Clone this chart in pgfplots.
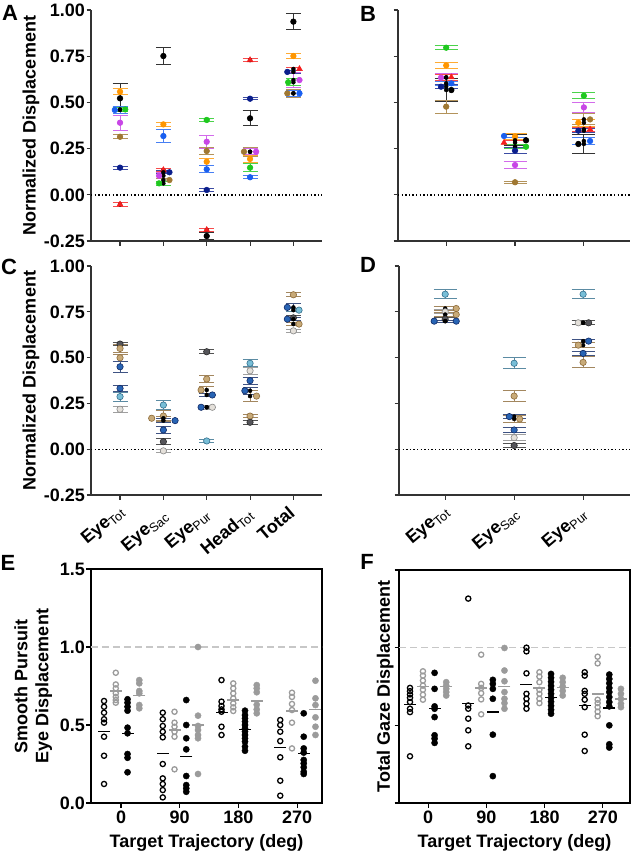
\documentclass[border=0pt]{standalone}
\usepackage{fontspec}
\setmainfont{Liberation Sans}
\usepackage{pgfplots}
\pgfplotsset{compat=1.18}

\newcommand{\fL}{\fontsize{18}{21}\selectfont\bfseries}
\newcommand{\fP}{\fontsize{22}{22}\selectfont\bfseries}
\newcommand{\sub}[1]{\textsubscript{\mdseries #1}}

% panels A/B
\definecolor{cBk}{RGB}{0,0,0}
\definecolor{cOr}{RGB}{255,150,0}
\definecolor{cBl}{RGB}{25,95,240}
\definecolor{cNv}{RGB}{10,30,140}
\definecolor{cGr}{RGB}{30,200,30}
\definecolor{cPu}{RGB}{200,70,230}
\definecolor{cBr}{RGB}{160,120,50}
\definecolor{cRd}{RGB}{245,30,30}
% panels C/D fills and outlines
\definecolor{fLB}{RGB}{120,190,215}\definecolor{oLB}{RGB}{50,110,140}
\definecolor{fDG}{RGB}{85,85,90}\definecolor{oDG}{RGB}{40,40,40}
\definecolor{fTn}{RGB}{200,170,120}\definecolor{oTn}{RGB}{140,105,55}
\definecolor{fBl}{RGB}{40,100,180}\definecolor{oBl}{RGB}{15,40,100}
\definecolor{fLG}{RGB}{228,224,218}\definecolor{oLG}{RGB}{135,135,135}
\definecolor{gGr}{RGB}{155,155,155}

% #1 fill, #2 draw, #3 mark style, #4 x of error bar, #5 x of mark, #6 y, #7 error, #8 cap half width
\newcommand{\pp}[8]{%
\addplot[only marks, mark=none, forget plot, error bars/.cd, y dir=both, y explicit,
  error bar style={color=#2!80!white, line width=1pt},
  error mark options={rotate=90, color=#2!80!white, mark size=#8, line width=1pt}]
  coordinates {(#4,#6) +- (0,#7)};
\addplot[only marks, forget plot, #3, mark options={fill=#1, draw=#2, line width=0.6pt, solid}]
  coordinates {(#5,#6)};
}

\pgfplotsset{
  mA/.style={mark=*, mark size=2.8pt},
  mT/.style={mark=triangle*, mark size=3.3pt},
  mC/.style={mark=*, mark size=3.2pt},
  panelAD/.style={
    scale only axis, clip=false,
    axis x line*=bottom, axis y line*=left,
    axis line style={-, line width=1.1pt, black!80},
    tick style={line width=1.1pt, black!80},
    tick align=outside, major tick length=4.5pt,
    ymin=-0.25, ymax=1, ytick={-0.25,0,0.25,0.5,0.75,1},
    xticklabels={}, yticklabels={},
    yticklabel style={font=\fL, inner xsep=1.5pt},
    ylabel style={font=\fL, at={(axis description cs:-0.26,0.5)}, anchor=center},
  },
  panelEF/.style={
    scale only axis, clip=false,
    axis line style={line width=1.2pt, black},
    tick style={line width=1.2pt, black},
    tick align=outside, major tick length=4.5pt, tick pos=left,
    ymin=0, ymax=1.5, ytick={0,0.5,1,1.5},
    xtick={0,90,180,270}, xticklabels={0,90,180,270},
    yticklabels={},
    yticklabel style={font=\fL, inner xsep=1.5pt},
    xticklabel style={font=\fL},
    ylabel style={font=\fL, align=center, anchor=center},
    xlabel style={font=\fL, at={(axis description cs:0.5,-0.171)}, anchor=center},
    xlabel={Target Trajectory (deg)},
  },
  oB/.style={only marks, mark=o, mark size=2.6pt, mark options={line width=1.3pt}, black},
  oG/.style={only marks, mark=o, mark size=2.6pt, mark options={line width=1.3pt}, gGr},
  fB/.style={only marks, mark=*, mark size=3.1pt, black},
  fG/.style={only marks, mark=*, mark size=3.1pt, gGr},
  mnB/.style={only marks, mark=-, mark size=6pt, mark options={line width=1.4pt}, black},
  mnG/.style={only marks, mark=-, mark size=6pt, mark options={line width=1.4pt}, gGr},
}

\begin{document}
\begin{tikzpicture}
\useasboundingbox (0,0) rectangle (633pt,-860pt);

% ---------------- A ----------------
\begin{axis}[panelAD, at={(91pt,-241pt)}, anchor=south west, width=231pt, height=231pt,
  xmin=-0.67, xmax=4.66, xtick={0,1,2,3,4},
  yticklabels={-0.25,0.00,0.25,0.50,0.75,1.00}, ylabel={Normalized Displacement}]
\addplot[forget plot, black, line width=1.4pt, dash pattern=on 1.4pt off 2.2pt] coordinates {(-0.67,0) (4.66,0)};
% Eye_Tot
\pp{cBk}{cBk}{mA}{0}{0}{0.522}{0.08}{7.5pt}
\pp{cOr}{cOr}{mA}{0}{0}{0.558}{0.015}{7.5pt}
\pp{cBl}{cBl}{mA}{0}{-0.12}{0.459}{0.02}{7.5pt}
\pp{cGr}{cGr}{mA}{0}{0.12}{0.462}{0.012}{7.5pt}
\pp{cPu}{cPu}{mA}{0}{0}{0.39}{0.04}{7.5pt}
\pp{cBr}{cBr}{mA}{0}{0}{0.314}{0.012}{7.5pt}
\pp{cNv}{cNv}{mA}{0}{0}{0.147}{0.008}{7.5pt}
\pp{cRd}{cRd}{mT}{0}{0}{-0.052}{0.01}{7.5pt}
% Eye_Sac
\pp{cBk}{cBk}{mA}{1}{1}{0.751}{0.045}{7.5pt}
\pp{cOr}{cOr}{mA}{1}{1}{0.381}{0.012}{7.5pt}
\pp{cBl}{cBl}{mA}{1}{1}{0.318}{0.036}{7.5pt}
\pp{cRd}{cRd}{mT}{1}{1}{0.134}{0.01}{7.5pt}
\pp{cPu}{cPu}{mA}{1}{0.9}{0.103}{0.015}{7.5pt}
\pp{cNv}{cNv}{mA}{1}{1.14}{0.122}{0.008}{7.5pt}
\pp{cBr}{cBr}{mA}{1}{1.14}{0.080}{0.008}{7.5pt}
\pp{cGr}{cGr}{mA}{1}{0.9}{0.062}{0.01}{7.5pt}
% Eye_Pur
\pp{cGr}{cGr}{mA}{2}{2}{0.405}{0.01}{7.5pt}
\pp{cPu}{cPu}{mA}{2}{2}{0.287}{0.035}{7.5pt}
\pp{cBr}{cBr}{mA}{2}{2}{0.237}{0.02}{7.5pt}
\pp{cOr}{cOr}{mA}{2}{2}{0.179}{0.02}{7.5pt}
\pp{cBl}{cBl}{mA}{2}{2}{0.138}{0.02}{7.5pt}
\pp{cNv}{cNv}{mA}{2}{2}{0.026}{0.008}{7.5pt}
\pp{cRd}{cRd}{mT}{2}{2}{-0.19}{0.008}{7.5pt}
\pp{cBk}{cBk}{mA}{2}{2}{-0.223}{0.02}{7.5pt}
% Head_Tot
\pp{cRd}{cRd}{mT}{3}{3}{0.729}{0.01}{7.5pt}
\pp{cNv}{cNv}{mA}{3}{3}{0.52}{0.006}{7.5pt}
\pp{cBk}{cBk}{mA}{3}{3}{0.414}{0.04}{7.5pt}
\pp{cBr}{cBr}{mA}{3}{2.86}{0.233}{0.025}{7.5pt}
\pp{cPu}{cPu}{mA}{3}{3.14}{0.233}{0.015}{7.5pt}
\pp{cOr}{cOr}{mA}{3}{3}{0.194}{0.02}{7.5pt}
\pp{cGr}{cGr}{mA}{3}{3}{0.147}{0.02}{7.5pt}
\pp{cBl}{cBl}{mA}{3}{3}{0.095}{0.008}{7.5pt}
% Total
\pp{cBk}{cBk}{mA}{4}{4}{0.937}{0.045}{7.5pt}
\pp{cOr}{cOr}{mA}{4}{4}{0.751}{0.015}{7.5pt}
\pp{cRd}{cRd}{mT}{4}{4.14}{0.681}{0.01}{7.5pt}
\pp{cNv}{cNv}{mA}{4}{3.86}{0.665}{0.01}{7.5pt}
\pp{cPu}{cPu}{mA}{4}{4.14}{0.621}{0.04}{7.5pt}
\pp{cGr}{cGr}{mA}{4}{3.88}{0.609}{0.02}{7.5pt}
\pp{cBr}{cBr}{mA}{4}{3.86}{0.549}{0.02}{7.5pt}
\pp{cBl}{cBl}{mA}{4}{4.14}{0.549}{0.015}{7.5pt}
\end{axis}

% ---------------- B ----------------
\begin{axis}[panelAD, at={(398pt,-241pt)}, anchor=south west, width=232pt, height=231pt,
  xmin=-0.7, xmax=2.67, xtick={0,1,2}]
\addplot[forget plot, black, line width=1.4pt, dash pattern=on 1.4pt off 2.2pt] coordinates {(-0.7,0) (2.67,0)};
% Eye_Tot
\pp{cGr}{cGr}{mA}{0}{0}{0.796}{0.01}{11.5pt}
\pp{cOr}{cOr}{mA}{0}{0}{0.70}{0.015}{11.5pt}
\pp{cPu}{cPu}{mA}{0}{-0.075}{0.634}{0.02}{11.5pt}
\pp{cRd}{cRd}{mT}{0}{0.075}{0.636}{0.015}{11.5pt}
\pp{cBl}{cBl}{mA}{0}{0.075}{0.603}{0.01}{11.5pt}
\pp{cNv}{cNv}{mA}{0}{-0.075}{0.585}{0.012}{11.5pt}
\pp{cBk}{cBk}{mA}{0}{0.075}{0.567}{0.06}{11.5pt}
\pp{cBr}{cBr}{mA}{0}{0}{0.477}{0.035}{11.5pt}
% Eye_Sac
\pp{cBl}{cBl}{mA}{1}{0.84}{0.318}{0.01}{11.5pt}
\pp{cOr}{cOr}{mA}{1}{1}{0.315}{0.015}{11.5pt}
\pp{cBk}{cBk}{mA}{1}{1.16}{0.295}{0.03}{11.5pt}
\pp{cRd}{cRd}{mT}{1}{0.84}{0.282}{0.01}{11.5pt}
\pp{cGr}{cGr}{mA}{1}{1.16}{0.26}{0.01}{11.5pt}
\pp{cNv}{cNv}{mA}{1}{1}{0.239}{0.015}{11.5pt}
\pp{cPu}{cPu}{mA}{1}{1}{0.161}{0.02}{11.5pt}
\pp{cBr}{cBr}{mA}{1}{1}{0.068}{0.006}{11.5pt}
% Eye_Pur
\pp{cGr}{cGr}{mA}{2}{2}{0.536}{0.015}{11.5pt}
\pp{cPu}{cPu}{mA}{2}{2}{0.473}{0.025}{11.5pt}
\pp{cBr}{cBr}{mA}{2}{2.09}{0.408}{0.03}{11.5pt}
\pp{cOr}{cOr}{mA}{2}{1.92}{0.39}{0.02}{11.5pt}
\pp{cRd}{cRd}{mT}{2}{2.09}{0.354}{0.01}{11.5pt}
\pp{cNv}{cNv}{mA}{2}{1.92}{0.347}{0.01}{11.5pt}
\pp{cBl}{cBl}{mA}{2}{2.09}{0.291}{0.02}{11.5pt}
\pp{cBk}{cBk}{mA}{2}{1.92}{0.275}{0.05}{11.5pt}
\end{axis}

% ---------------- C ----------------
\begin{axis}[panelAD, at={(91pt,-495pt)}, anchor=south west, width=231pt, height=229pt,
  xmin=-0.67, xmax=4.66, xtick={0,1,2,3,4},
  yticklabels={-0.25,0.00,0.25,0.50,0.75,1.00}, ylabel={Normalized Displacement}]
\addplot[forget plot, black, line width=1.4pt, dash pattern=on 1.4pt off 2.2pt] coordinates {(-0.67,0) (4.66,0)};
% Eye_Tot
\pp{fDG}{oDG}{mC}{0}{0}{0.574}{0.01}{7.5pt}
\pp{fTn}{oTn}{mC}{0}{0}{0.55}{0.02}{7.5pt}
\pp{fTn}{oTn}{mC}{0}{0}{0.499}{0.02}{7.5pt}
\pp{fBl}{oBl}{mC}{0}{0}{0.45}{0.03}{7.5pt}
\pp{fBl}{oBl}{mC}{0}{0}{0.332}{0.015}{7.5pt}
\pp{fLB}{oLB}{mC}{0}{0}{0.287}{0.025}{7.5pt}
\pp{fLG}{oLG}{mC}{0}{0}{0.218}{0.015}{7.5pt}
% Eye_Sac
\pp{fLB}{oLB}{mC}{1}{1}{0.241}{0.025}{7.5pt}
\pp{fTn}{oTn}{mC}{1}{1}{0.181}{0.03}{7.5pt}
\pp{fTn}{oTn}{mC}{1}{0.73}{0.169}{0.01}{7.5pt}
\pp{fBl}{oBl}{mC}{1}{1.27}{0.156}{0.01}{7.5pt}
\pp{fBl}{oBl}{mC}{1}{1}{0.105}{0.02}{7.5pt}
\pp{fDG}{oDG}{mC}{1}{1}{0.041}{0.015}{7.5pt}
\pp{fLG}{oLG}{mC}{1}{1}{-0.009}{0.01}{7.5pt}
% Eye_Pur
\pp{fDG}{oDG}{mC}{2}{2}{0.532}{0.01}{7.5pt}
\pp{fTn}{oTn}{mC}{2}{2}{0.383}{0.02}{7.5pt}
\pp{fTn}{oTn}{mC}{2}{1.87}{0.323}{0.02}{7.5pt}
\pp{fBl}{oBl}{mC}{2}{2.13}{0.296}{0.01}{7.5pt}
\pp{fBl}{oBl}{mC}{2}{1.87}{0.229}{0.01}{7.5pt}
\pp{fLG}{oLG}{mC}{2}{2.13}{0.229}{0.01}{7.5pt}
\pp{fLB}{oLB}{mC}{2}{2}{0.045}{0.01}{7.5pt}
% Head_Tot
\pp{fLB}{oLB}{mC}{3}{3}{0.469}{0.02}{7.5pt}
\pp{fLG}{oLG}{mC}{3}{3}{0.428}{0.02}{7.5pt}
\pp{fBl}{oBl}{mC}{3}{3}{0.374}{0.02}{7.5pt}
\pp{fBl}{oBl}{mC}{3}{2.88}{0.319}{0.02}{7.5pt}
\pp{fTn}{oTn}{mC}{3}{3.15}{0.29}{0.03}{7.5pt}
\pp{fTn}{oTn}{mC}{3}{3}{0.181}{0.01}{7.5pt}
\pp{fDG}{oDG}{mC}{3}{3}{0.147}{0.01}{7.5pt}
% Total
\pp{fTn}{oTn}{mC}{4}{4}{0.843}{0.01}{7.5pt}
\pp{fBl}{oBl}{mC}{4}{3.86}{0.774}{0.02}{7.5pt}
\pp{fLB}{oLB}{mC}{4}{4.13}{0.759}{0.01}{7.5pt}
\pp{fDG}{oDG}{mC}{4}{4}{0.717}{0.015}{7.5pt}
\pp{fBl}{oBl}{mC}{4}{3.86}{0.71}{0.01}{7.5pt}
\pp{fTn}{oTn}{mC}{4}{4.13}{0.683}{0.01}{7.5pt}
\pp{fLG}{oLG}{mC}{4}{4}{0.646}{0.01}{7.5pt}
\end{axis}

% ---------------- D ----------------
\begin{axis}[panelAD, at={(399pt,-495pt)}, anchor=south west, width=231pt, height=229pt,
  xmin=-0.67, xmax=2.68, xtick={0,1,2}]
\addplot[forget plot, black, line width=1.4pt, dash pattern=on 1.4pt off 2.2pt] coordinates {(-0.67,0) (2.68,0)};
% Eye_Tot
\pp{fLB}{oLB}{mC}{0}{0}{0.846}{0.025}{11.5pt}
\pp{fTn}{oTn}{mC}{0}{0.16}{0.768}{0.01}{11.5pt}
\pp{fLG}{oLG}{mC}{0}{0}{0.75}{0.01}{11.5pt}
\pp{fTn}{oTn}{mC}{0}{0.16}{0.735}{0.01}{11.5pt}
\pp{fDG}{oDG}{mC}{0}{0}{0.71}{0.01}{11.5pt}
\pp{fBl}{oBl}{mC}{0}{-0.16}{0.699}{0.005}{11.5pt}
\pp{fBl}{oBl}{mC}{0}{0.16}{0.699}{0.005}{11.5pt}
% Eye_Sac
\pp{fLB}{oLB}{mC}{1}{1}{0.469}{0.03}{11.5pt}
\pp{fTn}{oTn}{mC}{1}{1}{0.29}{0.03}{11.5pt}
\pp{fBl}{oBl}{mC}{1}{0.93}{0.178}{0.01}{11.5pt}
\pp{fTn}{oTn}{mC}{1}{1.08}{0.165}{0.02}{11.5pt}
\pp{fBl}{oBl}{mC}{1}{1}{0.105}{0.015}{11.5pt}
\pp{fLG}{oLG}{mC}{1}{1}{0.063}{0.015}{11.5pt}
\pp{fDG}{oDG}{mC}{1}{1}{0.02}{0.01}{11.5pt}
% Eye_Pur
\pp{fLB}{oLB}{mC}{2}{2}{0.846}{0.025}{11.5pt}
\pp{fLG}{oLG}{mC}{2}{1.93}{0.69}{0.01}{11.5pt}
\pp{fDG}{oDG}{mC}{2}{2.08}{0.69}{0.01}{11.5pt}
\pp{fBl}{oBl}{mC}{2}{2.08}{0.59}{0.01}{11.5pt}
\pp{fTn}{oTn}{mC}{2}{1.93}{0.568}{0.015}{11.5pt}
\pp{fBl}{oBl}{mC}{2}{2}{0.523}{0.01}{11.5pt}
\pp{fTn}{oTn}{mC}{2}{2}{0.474}{0.03}{11.5pt}
\end{axis}

% ---------------- E ----------------
\begin{axis}[panelEF, at={(91pt,-803pt)}, anchor=south west, width=231pt, height=234pt,
  xmin=-46, xmax=308, yticklabels={0.0,0.5,1.0,1.5},
  ylabel={Smooth Pursuit\\Eye Displacement},
  ylabel style={at={(axis description cs:-0.25,0.5)}}]
\addplot[forget plot, black!22, line width=1.3pt, dash pattern=on 7pt off 4pt] coordinates {(-46,1) (308,1)};
\addplot[oB] coordinates {
(-26,0.654)(-26,0.617)(-26,0.579)(-26,0.537)(-26,0.515)(-26,0.425)(-26,0.303)(-26,0.122)
(64,0.579)(64,0.537)(64,0.494)(64,0.457)(64,0.421)(64,0.25)(64,0.158)(64,0.122)(64,0.083)(64,0.036)
(154,0.788)(154,0.65)(154,0.622)(154,0.6)(154,0.585)(154,0.489)(154,0.436)
(244,0.532)(244,0.5)(244,0.457)(244,0.397)(244,0.293)(244,0.143)(244,0.047)};
\addplot[oG] coordinates {
(-8,0.835)(-8,0.76)(-8,0.735)(-8,0.703)(-8,0.68)(-8,0.66)(-8,0.643)
(82,0.585)(82,0.515)(82,0.489)(82,0.457)(82,0.425)(82,0.216)
(172,0.767)(172,0.735)(172,0.703)(172,0.671)(172,0.639)(172,0.613)(172,0.59)
(262,0.707)(262,0.68)(262,0.635)(262,0.596)(262,0.515)(262,0.35)};
\addplot[fB] coordinates {
(10,0.665)(10,0.643)(10,0.617)(10,0.592)(10,0.483)(10,0.447)(10,0.314)(10,0.29)(10,0.197)
(100,0.66)(100,0.5)(100,0.415)(100,0.344)(100,0.173)(100,0.115)(100,0.094)(100,0.072)
(190,0.592)(190,0.564)(190,0.543)(190,0.521)(190,0.5)(190,0.479)(190,0.457)(190,0.436)(190,0.415)(190,0.393)(190,0.361)(190,0.335)
(280,0.575)(280,0.425)(280,0.35)(280,0.323)(280,0.276)(280,0.254)(280,0.229)(280,0.2)(280,0.186)};
\addplot[fG] coordinates {
(28,0.788)(28,0.767)(28,0.718)(28,0.703)(28,0.628)(28,0.607)
(118,1.0)(118,0.56)(118,0.494)(118,0.468)(118,0.436)(118,0.415)(118,0.186)
(208,0.756)(208,0.735)(208,0.71)(208,0.63)(208,0.60)(208,0.575)
(298,0.784)(298,0.671)(298,0.628)(298,0.549)(298,0.489)(298,0.436)};
\addplot[mnB] coordinates {(-26,0.46)(64,0.318)(154,0.579)(244,0.355)(10,0.447)(100,0.297)(190,0.47)(280,0.318)};
\addplot[mnG] coordinates {(-8,0.718)(82,0.468)(172,0.66)(262,0.59)(28,0.688)(118,0.5)(208,0.655)(298,0.6)};
\end{axis}

% ---------------- F ----------------
\begin{axis}[panelEF, at={(399pt,-803pt)}, anchor=south west, width=231pt, height=233pt,
  xmin=-45, xmax=312,
  ylabel={Total Gaze Displacement},
  ylabel style={at={(axis description cs:-0.06,0.5)}}]
\addplot[forget plot, black!22, line width=1.3pt, dash pattern=on 7pt off 4pt] coordinates {(-45,1) (312,1)};
\addplot[oB] coordinates {
(-28,0.741)(-28,0.72)(-28,0.699)(-28,0.677)(-28,0.65)(-28,0.607)(-28,0.585)(-28,0.301)
(62,1.316)(62,0.628)(62,0.607)(62,0.543)(62,0.468)(62,0.365)
(152,1.0)(152,0.976)(152,0.835)(152,0.703)(152,0.671)(152,0.639)(152,0.607)
(242,0.842)(242,0.82)(242,0.722)(242,0.703)(242,0.665)(242,0.617)(242,0.44)(242,0.335)};
\addplot[oG] coordinates {
(-8,0.848)(-8,0.82)(-8,0.788)(-8,0.756)(-8,0.729)(-8,0.697)(-8,0.665)
(82,0.955)(82,0.767)(82,0.741)(82,0.707)(82,0.667)(82,0.571)
(172,0.842)(172,0.814)(172,0.778)(172,0.729)(172,0.703)(172,0.671)(172,0.643)
(262,0.942)(262,0.899)(262,0.665)(262,0.643)(262,0.617)(262,0.588)(262,0.559)};
\addplot[fB] coordinates {
(10,0.838)(10,0.735)(10,0.622)(10,0.607)(10,0.553)(10,0.436)(10,0.415)(10,0.387)
(100,0.793)(100,0.767)(100,0.735)(100,0.671)(100,0.44)(100,0.173)
(190,0.831)(190,0.806)(190,0.78)(190,0.754)(190,0.729)(190,0.703)(190,0.677)(190,0.652)(190,0.626)(190,0.6)(190,0.575)
(280,0.827)(280,0.799)(280,0.771)(280,0.741)(280,0.714)(280,0.682)(280,0.65)(280,0.622)(280,0.5)(280,0.378)(280,0.357)};
\addplot[fG] coordinates {
(28,0.778)(28,0.756)(28,0.735)(28,0.714)(28,0.692)
(118,0.998)(118,0.853)(118,0.784)(118,0.714)(118,0.671)(118,0.643)(118,0.607)
(208,0.806)(208,0.778)(208,0.75)(208,0.722)(208,0.692)
(298,0.735)(298,0.703)(298,0.671)(298,0.639)(298,0.617)};
\addplot[mnB] coordinates {(-28,0.635)(62,0.639)(152,0.763)(242,0.628)(10,0.607)(100,0.585)(190,0.68)(280,0.612)};
\addplot[mnG] coordinates {(-8,0.75)(82,0.74)(172,0.74)(262,0.703)(28,0.75)(118,0.75)(208,0.745)(298,0.67)};
\end{axis}

% rotated category labels of C and D
\node[rotate=40, anchor=base east, inner sep=0pt, font=\fL] at (125pt,-513pt) {Eye\sub{Tot}};
\node[rotate=40, anchor=base east, inner sep=0pt, font=\fL] at (169pt,-517pt) {Eye\sub{Sac}};
\node[rotate=40, anchor=base east, inner sep=0pt, font=\fL] at (211pt,-516pt) {Eye\sub{Pur}};
\node[rotate=40, anchor=base east, inner sep=0pt, font=\fL] at (254pt,-516pt) {Head\sub{Tot}};
\node[rotate=40, anchor=base east, inner sep=0pt, font=\fL] at (296pt,-515pt) {Total};
\node[rotate=40, anchor=base east, inner sep=0pt, font=\fL] at (450pt,-513pt) {Eye\sub{Tot}};
\node[rotate=40, anchor=base east, inner sep=0pt, font=\fL] at (520pt,-515pt) {Eye\sub{Sac}};
\node[rotate=40, anchor=base east, inner sep=0pt, font=\fL] at (588pt,-515pt) {Eye\sub{Pur}};

% panel letters
\node[font=\fP] at (10pt,-13pt) {A};
\node[font=\fP] at (368pt,-14pt) {B};
\node[font=\fP] at (9pt,-267pt) {C};
\node[font=\fP] at (368pt,-265pt) {D};
\node[font=\fP] at (8pt,-563pt) {E};
\node[font=\fP] at (367pt,-562pt) {F};
\end{tikzpicture}
\end{document}
